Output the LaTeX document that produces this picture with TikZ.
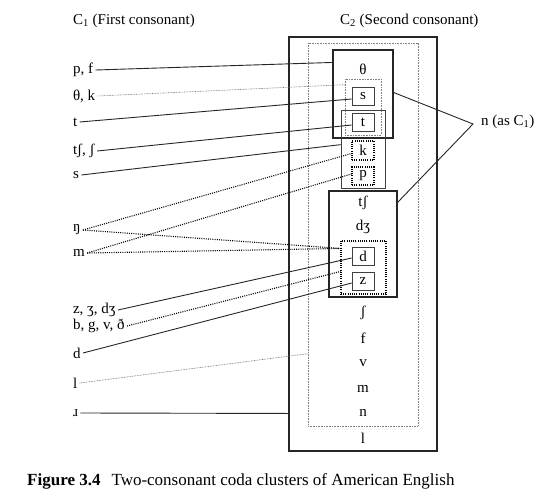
\documentclass[tikz,border=0pt]{standalone}
\usepackage{fontspec}
\setmainfont{Liberation Serif}
\begin{document}
\begin{tikzpicture}[x=1pt,y=-1pt,
  every node/.style={font=\fontsize{15}{17}\selectfont},
  lab/.style={anchor=west,inner sep=0pt,outer sep=2.5pt},
  phon/.style={inner sep=0pt},
  solidbox/.style={draw=black!85,line width=1.1pt,inner sep=0pt},
  thinbox/.style={draw=black!75,line width=0.7pt,inner sep=0pt},
  dotbox/.style={draw=black,line width=1.1pt,dash pattern=on 1pt off 1.2pt,inner sep=0pt},
  greybox/.style={draw=black!50,line width=0.6pt,dash pattern=on 0.8pt off 0.8pt,inner sep=0pt},
  conn/.style={draw=black!85,line width=0.9pt},
  dconn/.style={draw=black,line width=1.1pt,dash pattern=on 1pt off 1.2pt},
  gconn/.style={draw=black!55,line width=0.6pt,dash pattern=on 0.8pt off 0.8pt}]
\useasboundingbox (0,0) rectangle (540,495);
% boxes
\node[solidbox,minimum width=148pt,minimum height=414pt] (outer) at (363,244) {};
\node[greybox,minimum width=110pt,minimum height=383pt] (grey) at (363,234.5) {};
\node[solidbox,minimum width=60pt,minimum height=88pt] (thbox) at (363,94) {};
\node[greybox,minimum width=36pt,minimum height=56pt] (stbox) at (363,107) {};
\node[thinbox,minimum width=44pt,minimum height=78pt] (tkp) at (363,149) {};
\node[thinbox,minimum width=22pt,minimum height=18pt] (sbox) at (363,96) {s};
\node[thinbox,minimum width=22pt,minimum height=18pt] (tbox) at (363,122) {t};
\node[dotbox,minimum width=22pt,minimum height=19pt] (kbox) at (363,150.5) {k};
\node[dotbox,minimum width=22pt,minimum height=18pt] (pbox) at (363,176) {p};
\node[solidbox,minimum width=68pt,minimum height=106pt] (tshbox) at (363,244) {};
\node[dotbox,minimum width=45pt,minimum height=53pt] (dz) at (363.5,267.5) {};
\node[thinbox,minimum width=22pt,minimum height=18pt] (dbox) at (363,256) {d};
\node[thinbox,minimum width=22pt,minimum height=18pt] (zbox) at (363,281) {z};
% column letters
\node[phon] (th) at (363,69) {θ};
\node[phon] (tsh) at (363,203) {tʃ};
\node[phon] (dzh) at (363,227) {dʒ};
\node[phon] (sh) at (363,313) {ʃ};
\node[phon] (f) at (363,338) {f};
\node[phon] (v) at (363,363) {v};
\node[phon] (m2) at (363,389) {m};
\node[phon] (n2) at (363,413) {n};
\node[phon] (l2) at (363,438) {l};
% headings
\node[anchor=west,inner sep=0pt] (h1) at (73,21) {C\textsubscript{1} (First consonant)};
\node[anchor=west,inner sep=0pt] (h2) at (340,21) {C\textsubscript{2} (Second consonant)};
% left labels
\node[lab] (pf) at (70.5,70) {p, f};
\node[lab] (thk) at (70.5,96) {θ, k};
\node[lab] (t1) at (70.5,122) {t};
\node[lab] (tsh1) at (70.5,151) {tʃ, ʃ};
\node[lab] (s1) at (70.5,175) {s};
\node[lab] (ng1) at (70.5,230) {ŋ};
\node[lab] (m1) at (70.5,253) {m};
\node[lab] (zzh) at (70.5,310) {z, ʒ, dʒ};
\node[lab] (bgv) at (70.5,326) {b, g, v, ð};
\node[lab] (d1) at (70.5,353) {d};
\node[lab] (l1) at (70.5,383) {l};
\node[lab] (r1) at (70.5,413) {ɹ};
% right label
\node[anchor=west,inner sep=0pt] (nc1) at (481,122) {n (as C\textsubscript{1})};
\coordinate (nv) at (473,124);
% connectors
\draw[conn] (pf.east) -- ([yshift=-13pt]thbox.north west);
\draw[gconn] (thk.east) -- ([yshift=-6pt]stbox.north west);
\draw[conn] (t1.east) -- ([yshift=-3pt]sbox.west);
\draw[conn] (tsh1.east) -- ([yshift=-3pt]tbox.west);
\draw[conn] (s1.east) -- ([yshift=-35pt]tkp.north west);
\draw[dconn] (ng1.east) -- ([yshift=-3pt]kbox.west);
\draw[dconn] (m1.east) -- ([yshift=2pt]pbox.west);
\draw[dconn] (ng1.east) -- ([yshift=-8pt]dz.north west);
\draw[dconn] (m1.east) -- ([yshift=-8pt]dz.north west);
\draw[conn] (zzh.east) -- ([yshift=-2pt]dbox.west);
\draw[dconn] (bgv.east) -- ([yshift=-31pt]dz.north west);
\draw[conn] (d1.east) -- ([yshift=-2pt]zbox.west);
\draw[gconn] (l1.east) -- ([yshift=-311pt]grey.north west);
\draw[conn] (r1.east) -- ([yshift=-377pt]outer.north west);
\draw[conn] ([yshift=-43pt]thbox.north east) -- (nv) -- ([yshift=-12pt]tshbox.north east);
% caption
\node[anchor=west,inner sep=0pt,font=\fontsize{17}{19}\selectfont] (cap) at (27,481) {\textbf{Figure 3.4}\hspace{11pt}Two-consonant coda clusters of American English};
\end{tikzpicture}
\end{document}
